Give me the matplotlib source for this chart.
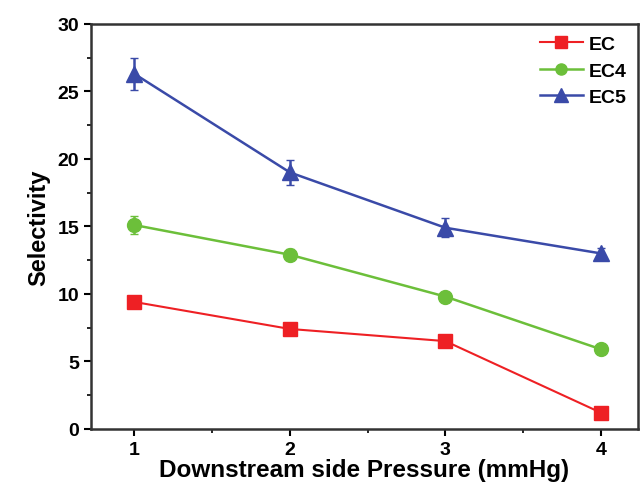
import matplotlib
matplotlib.use("Agg")
import matplotlib.pyplot as plt
from matplotlib.ticker import MultipleLocator

plt.rcParams['font.family'] = ['Liberation Sans', 'DejaVu Sans']
plt.rcParams['font.weight'] = 'bold'

pressure = [1, 2, 3, 4]
series_names = ['EC', 'EC4', 'EC5']
ec = [9.4, 7.4, 6.5, 1.2]
ec_err = [0.2, 0.2, 0.2, 0.2]
ec4 = [15.1, 12.9, 9.8, 5.9]
ec4_err = [0.7, 0.4, 0.3, 0.3]
ec5 = [26.3, 19.0, 14.9, 13.0]
ec5_err = [1.2, 0.9, 0.7, 0.4]

fig = plt.figure(figsize=(6.4, 4.89), dpi=100)
ax = fig.add_axes([0.142, 0.121, 0.855, 0.828])

c1 = ax.errorbar(pressure, ec, yerr=ec_err, color='#ee2024', marker='s', markersize=10,
                 linewidth=1.5, capsize=3)
c2 = ax.errorbar(pressure, ec4, yerr=ec4_err, color='#6cbf3a', marker='o', markersize=10,
                 linewidth=1.8, capsize=3)
c3 = ax.errorbar(pressure, ec5, yerr=ec5_err, color='#3a4aa8', marker='^', markersize=12,
                 linewidth=1.8, capsize=3)

ax.set_xlim(0.72, 4.24)
ax.set_ylim(0, 30)
ax.xaxis.set_major_locator(MultipleLocator(1))
ax.xaxis.set_minor_locator(MultipleLocator(0.5))
ax.yaxis.set_major_locator(MultipleLocator(5))
ax.yaxis.set_minor_locator(MultipleLocator(2.5))
ax.tick_params(which='major', direction='out', length=5, width=1.5, labelsize=14)
ax.tick_params(which='minor', direction='out', length=3, width=1.2)
for s in ax.spines.values():
    s.set_linewidth(1.8)
    s.set_color('#333333')

ax.set_xlabel('Downstream side Pressure (mmHg)', fontsize=17.5, fontweight='bold', labelpad=0)
ax.set_ylabel('Selectivity', fontsize=17, fontweight='bold', labelpad=5)

leg = ax.legend(handles=[c1[0], c2[0], c3[0]], labels=series_names, loc='upper right',
                frameon=False, fontsize=14, handlelength=2.2, borderaxespad=0.2,
                labelspacing=0.45, handletextpad=0.3, markerscale=0.8)

fig.savefig('out.png', dpi=100)
